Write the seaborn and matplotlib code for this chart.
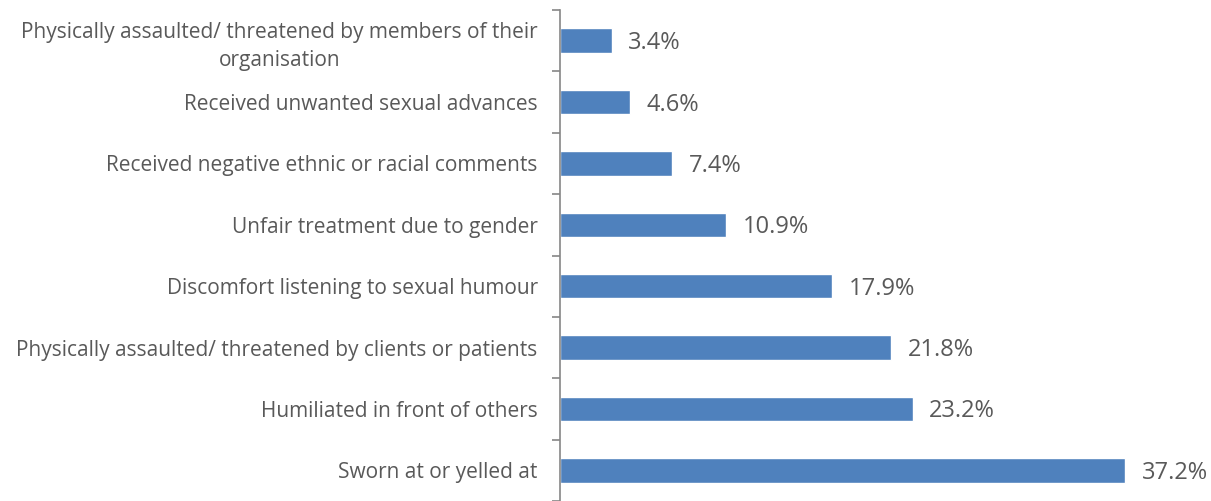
import matplotlib
matplotlib.use("Agg")
import matplotlib.pyplot as plt
import seaborn as sns
import pandas as pd
import numpy as np

categories = [
    "Physically assaulted/ threatened by members of their\norganisation",
    "Received unwanted sexual advances",
    "Received negative ethnic or racial comments",
    "Unfair treatment due to gender",
    "Discomfort listening to sexual humour",
    "Physically assaulted/ threatened by clients or patients",
    "Humiliated in front of others",
    "Sworn at or yelled at",
]
percentages = [3.4, 4.6, 7.4, 10.9, 17.9, 21.8, 23.2, 37.2]

df = pd.DataFrame({"category": categories, "pct": percentages})

sns.set_style("white")
plt.rcParams["font.family"] = ["Open Sans", "DejaVu Sans"]

fig = plt.figure(figsize=(12.11, 5.01), dpi=100)
ax = fig.add_axes([0.4624, 0.0, 0.5021, 0.98])

sns.barplot(data=df, x="pct", y="category", orient="h", color="#4F81BD",
            saturation=1, width=0.4, ax=ax)

ax.set_xlim(0, 40)
ax.set_ylim(len(categories) - 0.5, -0.5)
ax.set_xlabel("")
ax.set_ylabel("")
ax.set_xticks([])

for side in ["top", "right", "bottom"]:
    ax.spines[side].set_visible(False)
ax.spines["left"].set_color("#868686")
ax.spines["left"].set_linewidth(1.2)

# tick marks sit between categories, labels centred on the bars
ax.set_yticks(np.arange(-0.5, len(categories), 1.0), minor=True)
ax.tick_params(axis="y", which="minor", left=True, length=6, width=1.2,
               color="#868686", direction="out")
ax.tick_params(axis="y", which="major", left=False, length=0, pad=16,
               labelsize=15, labelcolor="#595959")
for lbl in ax.get_yticklabels():
    lbl.set_multialignment("center")
    lbl.set_linespacing(1.45)

for i, v in enumerate(percentages):
    ax.text(v + 1.1, i + 0.04, f"{v}%", va="center", ha="left", fontsize=17, color="#595959")

fig.savefig("out.png", dpi=100)
